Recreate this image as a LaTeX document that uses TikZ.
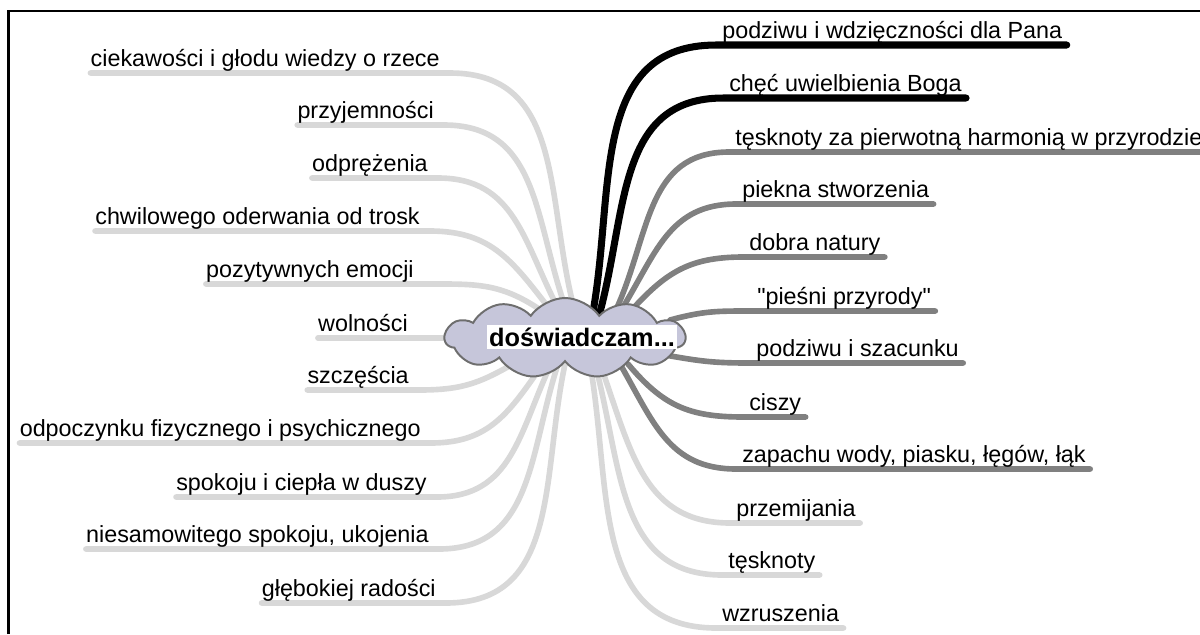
\documentclass[tikz,border=0pt]{standalone}
\usepackage{fontspec}
\setmainfont{Liberation Sans}
\newfontfamily\straightfont{Liberation Sans}
\usetikzlibrary{shapes.symbols,backgrounds}

\definecolor{lightbr}{RGB}{216,216,216}
\definecolor{midbr}{RGB}{128,128,128}
\definecolor{cloudfill}{RGB}{198,198,218}
\definecolor{cloudedge}{RGB}{110,110,110}

\tikzset{
  leaf/.style={font=\fontsize{16.6}{20}\selectfont, inner xsep=0pt, inner ysep=1pt, text height=12pt, text depth=3.7pt},
  leftleaf/.style={leaf, anchor=south east},
  rightleaf/.style={leaf, anchor=south west},
  branch/.style={line width=4pt, line cap=round, looseness=1.1},
  lightbranch/.style={branch, draw=lightbr},
  midbranch/.style={branch, draw=midbr},
  darkbranch/.style={branch, draw=black, line width=5pt}
}

\begin{document}
\begin{tikzpicture}[x=0.025cm, y=-0.025cm]
\useasboundingbox (0,0) rectangle (1200,634);

% Frame
\draw[line width=1.5pt] (8.5,634) -- (8.5,11) -- (1200,11);

% Central cloud
\node[cloud, cloud puffs=11, cloud puff arc=110, aspect=2.9, draw=cloudedge, fill=cloudfill, line width=1.4pt, minimum width=6cm, minimum height=2cm, inner sep=0pt] (hub) at (565,338) {};
\node[font=\fontsize{18}{20}\selectfont\bfseries, fill=white, inner sep=1.5pt] (title) at (582,337) {doświadczam...};

% Left labels
\node[leftleaf] (l1) at (440,73) {ciekawości i głodu wiedzy o rzece};
\node[leftleaf] (l2) at (434,125) {przyjemności};
\node[leftleaf] (l3) at (428,178) {odprężenia};
\node[leftleaf] (l4) at (420,231) {chwilowego oderwania od trosk};
\node[leftleaf] (l5) at (414,284) {pozytywnych emocji};
\node[leftleaf] (l6) at (408,338) {wolności};
\node[leftleaf] (l7) at (409,390) {szczęścia};
\node[leftleaf] (l8) at (421,443) {odpoczynku fizycznego i psychicznego};
\node[leftleaf] (l9) at (427,497) {spokoju i ciepła w duszy};
\node[leftleaf] (l10) at (429,549) {niesamowitego spokoju, ukojenia};
\node[leftleaf] (l11) at (436,603) {głębokiej radości};

% Right labels
\node[rightleaf] (r1) at (722,45) {podziwu i wdzięczności dla Pana};
\node[rightleaf] (r2) at (729,98) {chęć uwielbienia Boga};
\node[rightleaf] (r3) at (735,152) {tęsknoty za pierwotną harmonią w przyrodzie};
\node[rightleaf] (r4) at (742,204) {piekna stworzenia};
\node[rightleaf] (r5) at (749,257) {dobra natury};
\node[rightleaf] (r6) at (757,311) {{\straightfont"}pieśni przyrody{\straightfont"}};
\node[rightleaf] (r7) at (756,363) {podziwu i szacunku};
\node[rightleaf] (r8) at (749,417) {ciszy};
\node[rightleaf] (r9) at (742,469) {zapachu wody, piasku, łęgów, łąk};
\node[rightleaf] (r10) at (736,523) {przemijania};
\node[rightleaf] (r11) at (728,575) {tęsknoty};
\node[rightleaf] (r12) at (722,628) {wzruszenia};

\begin{scope}[on background layer]
% Left branches
\draw[lightbranch] (l1.south west) -- ([xshift=7pt]l1.south east) to[out=0,in=105] ([shift={(10,-26)}]hub.center);
\draw[lightbranch] (l2.south west) -- ([xshift=7pt]l2.south east) to[out=0,in=110] ([shift={(2,-26)}]hub.center);
\draw[lightbranch] (l3.south west) -- ([xshift=7pt]l3.south east) to[out=0,in=118] ([shift={(-5,-26)}]hub.center);
\draw[lightbranch] (l4.south west) -- ([xshift=7pt]l4.south east) to[out=0,in=128] ([shift={(-13,-26)}]hub.center);
\draw[lightbranch] (l5.south west) -- ([xshift=7pt]l5.south east) to[out=0,in=145] ([shift={(-20,-25)}]hub.center);
\draw[lightbranch] (l6.south west) -- ([xshift=7pt]l6.south east) -- ([shift={(-100,0)}]hub.center);
\draw[lightbranch] (l7.south west) -- ([xshift=7pt]l7.south east) to[out=0,in=210] ([shift={(-45,22)}]hub.center);
\draw[lightbranch] (l8.south west) -- ([xshift=7pt]l8.south east) to[out=0,in=235] ([shift={(-22,26)}]hub.center);
\draw[lightbranch] (l9.south west) -- ([xshift=7pt]l9.south east) to[out=0,in=245] ([shift={(-14,26)}]hub.center);
\draw[lightbranch] (l10.south west) -- ([xshift=7pt]l10.south east) to[out=0,in=252] ([shift={(-7,26)}]hub.center);
\draw[lightbranch] (l11.south west) -- ([xshift=7pt]l11.south east) to[out=0,in=258] ([shift={(0,26)}]hub.center);

% Right branches
\draw[darkbranch] ([shift={(28,-26)}]hub.center) to[out=80,in=180] ([xshift=-4pt]r1.south west) -- ([xshift=3pt]r1.south east);
\draw[darkbranch] ([shift={(35,-26)}]hub.center) to[out=75,in=180] ([xshift=-4pt]r2.south west) -- ([xshift=3pt]r2.south east);
\draw[midbranch] ([shift={(50,-26)}]hub.center) to[out=65,in=180] ([xshift=-4pt]r3.south west) -- ([xshift=3pt]r3.south east);
\draw[midbranch] ([shift={(55,-26)}]hub.center) to[out=58,in=180] ([xshift=-4pt]r4.south west) -- ([xshift=3pt]r4.south east);
\draw[midbranch] ([shift={(63,-24)}]hub.center) to[out=48,in=180] ([xshift=-4pt]r5.south west) -- ([xshift=3pt]r5.south east);
\draw[midbranch] ([shift={(105,-18)}]hub.center) to[out=15,in=180] ([xshift=-4pt]r6.south west) -- ([xshift=3pt]r6.south east);
\draw[midbranch] ([shift={(100,17)}]hub.center) to[out=-10,in=180] ([xshift=-4pt]r7.south west) -- ([xshift=3pt]r7.south east);
\draw[midbranch] ([shift={(63,26)}]hub.center) to[out=-50,in=180] ([xshift=-4pt]r8.south west) -- ([xshift=3pt]r8.south east);
\draw[midbranch] ([shift={(55,26)}]hub.center) to[out=-60,in=180] ([xshift=-4pt]r9.south west) -- ([xshift=3pt]r9.south east);
\draw[lightbranch] ([shift={(35,26)}]hub.center) to[out=-70,in=180] ([xshift=-4pt]r10.south west) -- ([xshift=3pt]r10.south east);
\draw[lightbranch] ([shift={(30,26)}]hub.center) to[out=-75,in=180] ([xshift=-4pt]r11.south west) -- ([xshift=3pt]r11.south east);
\draw[lightbranch] ([shift={(25,26)}]hub.center) to[out=-80,in=180] ([xshift=-4pt]r12.south west) -- ([xshift=3pt]r12.south east);
\end{scope}
\end{tikzpicture}
\end{document}
